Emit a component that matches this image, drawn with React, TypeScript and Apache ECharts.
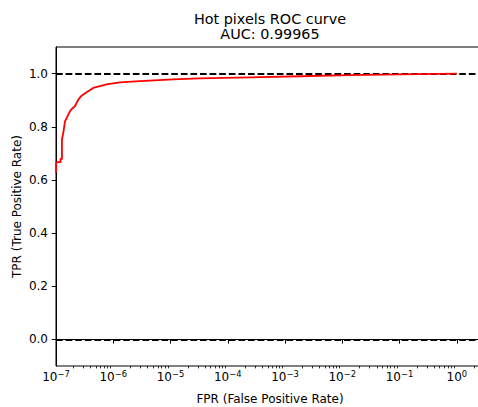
import React, { useEffect, useRef } from "react";
import * as echarts from "echarts";

const titleLines = ["Hot pixels ROC curve", "AUC: 0.99965"];
const xName = "FPR (False Positive Rate)";
const yName = "TPR (True Positive Rate)";

const fpr = [
  1e-7, 1.01e-7, 1.2e-7, 1.2e-7, 1.27e-7, 1.27e-7, 1.34e-7, 1.44e-7, 1.54e-7,
  1.75e-7, 1.88e-7, 2.14e-7, 2.45e-7, 2.8e-7, 3.42e-7, 4.47e-7, 7.64e-7,
  1.3e-6, 2.9e-6, 1.1e-5, 3.2e-5, 2.4e-4, 1.8e-3, 1.3e-2, 0.1, 1.0,
];
const tpr = [
  0.627, 0.667, 0.667, 0.679, 0.679, 0.752, 0.777, 0.821, 0.833, 0.858, 0.867,
  0.877, 0.902, 0.917, 0.93, 0.946, 0.959, 0.967, 0.972, 0.978, 0.982, 0.986,
  0.99, 0.994, 0.997, 1.0,
];

const xMin = 1e-7;
const xMax = 2.985;
const yMin = -0.1;
const yMax = 1.1;
const yTicks = [0, 0.2, 0.4, 0.6, 0.8, 1.0];
const xMajorExponents = [-7, -6, -5, -4, -3, -2, -1, 0];
const refLines = [0, 1];

const FONT = "DejaVu Sans";

export default function App() {
  const ref = useRef<HTMLDivElement>(null);
  useEffect(() => {
    if (!ref.current) return;
    const chart = echarts.init(ref.current, null, { renderer: "svg" });
    const xMajor = xMajorExponents.map((e) => Math.pow(10, e));
    const xMinor: number[] = [];
    xMajorExponents.forEach((e) => {
      for (let k = 2; k <= 9; k++) {
        const v = k * Math.pow(10, e);
        if (v < xMax) xMinor.push(v);
      }
    });
    const data = fpr.map((f, i) => [f, tpr[i]]);
    const axisCommon = {
      type: "log" as const,
      logBase: 10,
      min: xMin,
      max: xMax,
    };
    chart.setOption({
      animation: false,
      textStyle: { fontFamily: FONT },
      title: {
        text: titleLines.join("\n"),
        left: 270,
        top: 11,
        padding: 0,
        textAlign: "center",
        textStyle: {
          fontFamily: FONT,
          fontSize: 14.4,
          fontWeight: "normal",
          color: "#000",
          lineHeight: 15.5,
        },
      },
      grid: {
        left: 56,
        right: -6,
        top: 47,
        bottom: 41,
        containLabel: false,
        outerBoundsMode: "none",
        show: true,
        borderColor: "#000",
        borderWidth: 1,
      },
      xAxis: [
        {
          ...axisCommon,
          position: "bottom",
          name: xName,
          nameLocation: "middle",
          nameGap: 27,
          nameMoveOverlap: false,
          nameTextStyle: { fontFamily: FONT, fontSize: 12, color: "#000", verticalAlign: "top" },
          axisLine: { show: true, lineStyle: { color: "#000", width: 1 } },
          axisTick: {
            show: true,
            inside: false,
            length: 4.2,
            lineStyle: { color: "#000", width: 1 },
            customValues: xMajor,
          },
          axisLabel: {
            show: true,
            margin: 1.5,
            customValues: xMajor,
            formatter: (v: number) => {
              const e = Math.round(Math.log10(v));
              const s = e < 0 ? "\u2212" + Math.abs(e) : String(e);
              return "{b|10}{s|" + s + "}";
            },
            rich: {
              b: { fontFamily: FONT, fontSize: 12, color: "#000", padding: [3.5, 0, 0, 0] },
              s: { fontFamily: FONT, fontSize: 8.4, color: "#000", padding: [0, 0, 3.5, 0] },
            },
          },
          splitLine: { show: false },
          minorTick: { show: false },
        },
        {
          ...axisCommon,
          position: "bottom",
          axisLine: { show: false },
          axisTick: {
            show: true,
            inside: false,
            length: 2.4,
            lineStyle: { color: "#000", width: 0.8 },
            customValues: xMinor,
          },
          axisLabel: { show: false },
          splitLine: { show: false },
        },
      ],
      yAxis: {
        type: "value",
        min: yMin,
        max: yMax,
        name: yName,
        nameLocation: "middle",
        nameGap: 33,
        nameMoveOverlap: false,
        nameTextStyle: { fontFamily: FONT, fontSize: 12, color: "#000" },
        axisLine: { show: true, lineStyle: { color: "#000", width: 1 } },
        axisTick: {
          show: true,
          inside: false,
          length: 4.2,
          lineStyle: { color: "#000", width: 1 },
          customValues: yTicks,
        },
        axisLabel: {
          margin: 8,
          customValues: yTicks,
          formatter: (v: number) => v.toFixed(1),
          fontFamily: FONT,
          fontSize: 12,
          color: "#000",
        },
        splitLine: { show: false },
      },
      series: [
        {
          type: "line",
          data: [],
          silent: true,
          markLine: {
            silent: true,
            symbol: "none",
            label: { show: false },
            lineStyle: { color: "#000", width: 1.8, type: [6.7, 2.9] },
            data: refLines.map((y) => ({ yAxis: y })),
          },
        },
        {
          type: "line",
          data,
          showSymbol: false,
          symbol: "none",
          clip: true,
          lineStyle: { color: "#ff0000", width: 1.8, join: "round" },
          z: 5,
        },
      ],
    });
    return () => chart.dispose();
  }, []);
  return (
    <div
      ref={ref}
      style={{ position: "fixed", left: 0, top: 0, width: 478, height: 407, background: "#fff" }}
    />
  );
}
